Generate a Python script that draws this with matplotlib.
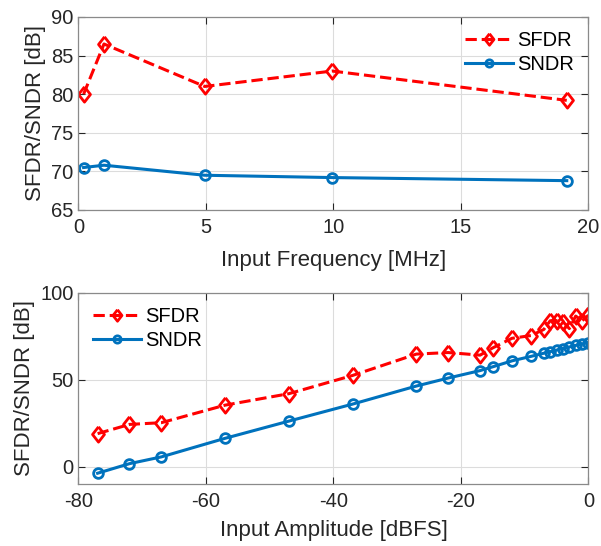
import matplotlib
matplotlib.use("Agg")
import matplotlib.pyplot as plt

# top: performance vs input frequency
freq = [0.2, 1.0, 4.95, 9.95, 19.15]
sfdr_f = [80.0, 86.5, 81.0, 83.0, 79.2]
sndr_f = [70.5, 70.8, 69.5, 69.2, 68.8]

# bottom: performance vs input amplitude
amp = [-77, -72, -67, -57, -47, -37, -27, -22, -17, -15, -12, -9,
       -7, -6, -5, -4, -3, -2, -1, 0]
sfdr_a = [19.0, 24.3, 25.3, 35.4, 42.0, 52.5, 64.8, 65.7, 64.2, 68.4, 73.9, 75.5,
          79.0, 84.0, 84.0, 83.5, 79.5, 86.7, 84.0, 87.2]
sndr_a = [-3.8, 1.7, 5.6, 16.3, 26.2, 36.0, 46.4, 51.0, 55.3, 57.5, 60.9, 63.5,
          65.3, 66.2, 67.1, 68.0, 68.9, 69.8, 70.6, 71.4]

plt.rcParams["font.family"] = ["Liberation Sans", "DejaVu Sans"]
plt.rcParams["axes.unicode_minus"] = False
red = "#FF0000"
blue = "#0072BD"
txt = "#262626"
# matlab-like diamond, a bit wider than matplotlib's thin one
diamond = [(0, 1), (0.78, 0), (0, -1), (-0.78, 0), (0, 1)]

fig = plt.figure(figsize=(6.01, 5.46), dpi=100)
ax1 = fig.add_axes([0.1306, 0.6154, 0.8485, 0.3535])
ax2 = fig.add_axes([0.1306, 0.1136, 0.8485, 0.3498])


def style(ax):
    ax.grid(True, color="#dcdcdc", linewidth=0.8)
    ax.set_axisbelow(True)
    ax.tick_params(direction="in", labelsize=14.5, colors=txt, length=5,
                   top=True, right=True, labeltop=False, labelright=False)
    ax.tick_params(axis="x", pad=6)
    for s in ax.spines.values():
        s.set_color("#8a8a8a")
        s.set_linewidth(0.9)


def add_legend(ax, loc):
    ax.legend(loc=loc, frameon=False, fontsize=14.5, handlelength=2.4,
              borderaxespad=0.3, handletextpad=0.2, labelspacing=0.25,
              markerscale=0.75)


ax1.plot(freq, sfdr_f, "--", marker=diamond, color=red, lw=2.2, ms=11, mew=2,
         mfc="none", label="SFDR")
ax1.plot(freq, sndr_f, "-o", color=blue, lw=2.2, ms=7, mew=2,
         mfc="none", label="SNDR")
ax1.set_xlim(0, 20)
ax1.set_ylim(65, 90)
ax1.set_xticks([0, 5, 10, 15, 20])
ax1.set_yticks([65, 70, 75, 80, 85, 90])
ax1.set_xlabel("Input Frequency [MHz]", fontsize=16, color=txt, labelpad=9)
ax1.set_ylabel("SFDR/SNDR [dB]", fontsize=16, color=txt, labelpad=4)
style(ax1)
add_legend(ax1, "upper right")

ax2.plot(amp, sfdr_a, "--", marker=diamond, color=red, lw=2.2, ms=11, mew=2,
         mfc="none", label="SFDR")
ax2.plot(amp, sndr_a, "-o", color=blue, lw=2.2, ms=7, mew=2,
         mfc="none", label="SNDR")
ax2.set_xlim(-80, 0)
ax2.set_ylim(-10, 100)
ax2.set_xticks([-80, -60, -40, -20, 0])
ax2.set_yticks([0, 50, 100])
ax2.set_xlabel("Input Amplitude [dBFS]", fontsize=16, color=txt, labelpad=6)
ax2.set_ylabel("SFDR/SNDR [dB]", fontsize=16, color=txt, labelpad=4)
style(ax2)
add_legend(ax2, "upper left")

fig.savefig("out.png", dpi=100, facecolor="white")
